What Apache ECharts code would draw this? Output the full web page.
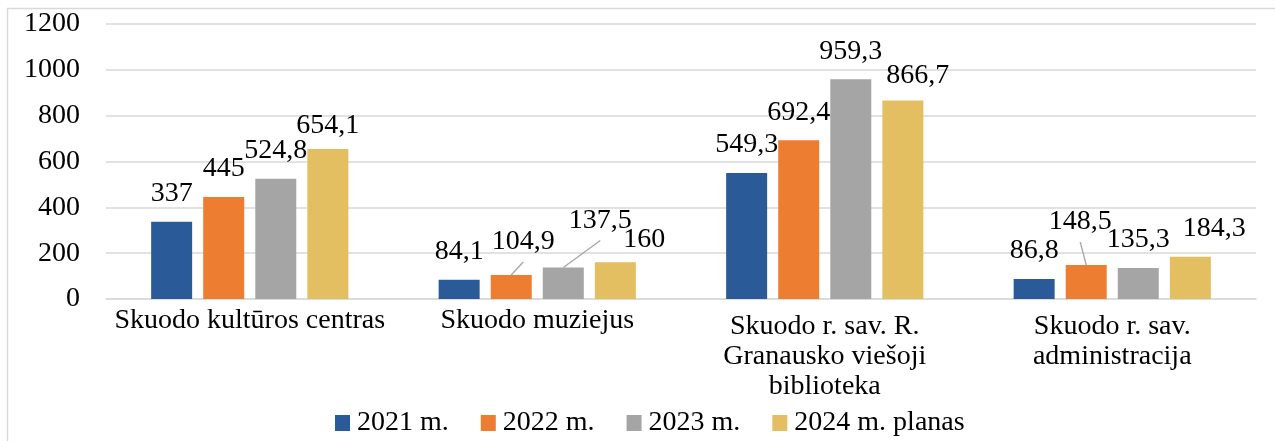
<!DOCTYPE html>
<html>
<head>
<meta charset="utf-8">
<script src="https://cdn.jsdelivr.net/npm/echarts@6/dist/echarts.min.js"></script>
<style>
  html, body { margin: 0; padding: 0; background: #fff; }
  #chart { width: 1275px; height: 441px; }
</style>
</head>
<body>
<div id="chart"></div>
<script>
// duomenys
let categories = [
  "Skuodo kultūros centras",
  "Skuodo muziejus",
  "Skuodo r. sav. R.\nGranausko viešoji\nbiblioteka",
  "Skuodo r. sav.\nadministracija",
];
let seriesNames = ["2021 m.", "2022 m.", "2023 m.", "2024 m. planas"];
let values2021 = [337, 84.1, 549.3, 86.8];
let values2022 = [445, 104.9, 692.4, 148.5];
let values2023 = [524.8, 137.5, 959.3, 135.3];
let values2024 = [654.1, 160, 866.7, 184.3];
let yTicks = [0, 200, 400, 600, 800, 1000, 1200];

let colors = ["#2A5B98", "#ED7D31", "#A5A5A5", "#E3BF61"];
let font = "'Liberation Serif', 'Times New Roman', serif";
let fontSize = 28;

// label shifts [dx, dy] like in the source; some get a leader line
let labelShift = [
  [[0, 0], [0, 0], [0, 0], [0, 0]],
  [[0, 0], [12, -5], [0, 0], [-6, -15]],
  [[0, 0], [37, -19], [0, 0], [0, 0]],
  [[0, 5], [29, 5], [15, 3], [24, 0]],
];
let leaderLines = [[], [1, 3], [1], []];

function fmt(v) {
  return String(v).replace(".", ",");
}

let allValues = [values2021, values2022, values2023, values2024];

let series = allValues.map(function (vals, si) {
  return {
    name: seriesNames[si],
    type: "bar",
    barWidth: 41,
    barGap: "27%",
    itemStyle: { color: colors[si] },
    data: vals,
    label: {
      show: true,
      position: "top",
      distance: 14,
      color: "#000",
      fontFamily: font,
      fontSize: fontSize,
      formatter: function (p) {
        return fmt(p.value);
      },
    },
    labelLayout: function (p) {
      let s = labelShift[si][p.dataIndex];
      return { dx: s[0], dy: s[1] };
    },
  };
});

let chart = echarts.init(document.getElementById("chart"));
chart.setOption({
  animation: false,
  backgroundColor: "#fff",
  textStyle: { fontFamily: font },
  grid: {
    left: 106,
    right: 19,
    top: 24,
    bottom: 142,
  },
  legend: {
    left: 330,
    top: 403,
    icon: "rect",
    itemWidth: 15,
    itemHeight: 16,
    itemGap: 32,
    textStyle: {
      fontFamily: font,
      fontSize: fontSize,
      lineHeight: 30,
      color: "#000",
      padding: [0, 0, 0, 2],
    },
    data: seriesNames,
  },
  xAxis: {
    type: "category",
    data: categories.map(function (c) {
      let multi = c.indexOf("\n") >= 0;
      return { value: c, textStyle: { padding: [multi ? 6 : 0, 0, 0, 0] } };
    }),
    axisTick: { show: false },
    axisLine: { lineStyle: { color: "#D9D9D9", width: 1.5 } },
    axisLabel: {
      interval: 0,
      margin: 7,
      fontFamily: font,
      fontSize: fontSize,
      lineHeight: 30,
      color: "#000",
      align: "center",
      verticalAlign: "top",
    },
  },
  yAxis: {
    type: "value",
    min: yTicks[0],
    max: yTicks[yTicks.length - 1],
    interval: yTicks[1] - yTicks[0],
    axisLine: { show: false },
    axisTick: { show: false },
    splitLine: { lineStyle: { color: "#D9D9D9", width: 1.5 } },
    axisLabel: {
      margin: 26,
      fontFamily: font,
      fontSize: fontSize,
      color: "#000",
      formatter: function (v) {
        return String(v);
      },
    },
  },
  series: series,
});

// leader lines from bar top to the moved label, plus the outer frame
let extra = [
  {
    type: "rect",
    shape: { x: 7.5, y: 8.5, width: 1400, height: 600 },
    style: { fill: null, stroke: "#D9D9D9", lineWidth: 1.5 },
    silent: true,
  },
];
leaderLines.forEach(function (list, si) {
  let data = chart.getModel().getSeriesByIndex(si).getData();
  list.forEach(function (di) {
    let lay = data.getItemLayout(di);
    let x = lay.x + lay.width / 2;
    let top = Math.min(lay.y, lay.y + lay.height);
    let s = labelShift[si][di];
    extra.push({
      type: "line",
      shape: { x1: x, y1: top, x2: x + s[0], y2: top - 8 + s[1] },
      style: { stroke: "#A6A6A6", lineWidth: 1.3 },
      silent: true,
    });
  });
});
chart.setOption({ graphic: extra });
</script>
</body>
</html>
